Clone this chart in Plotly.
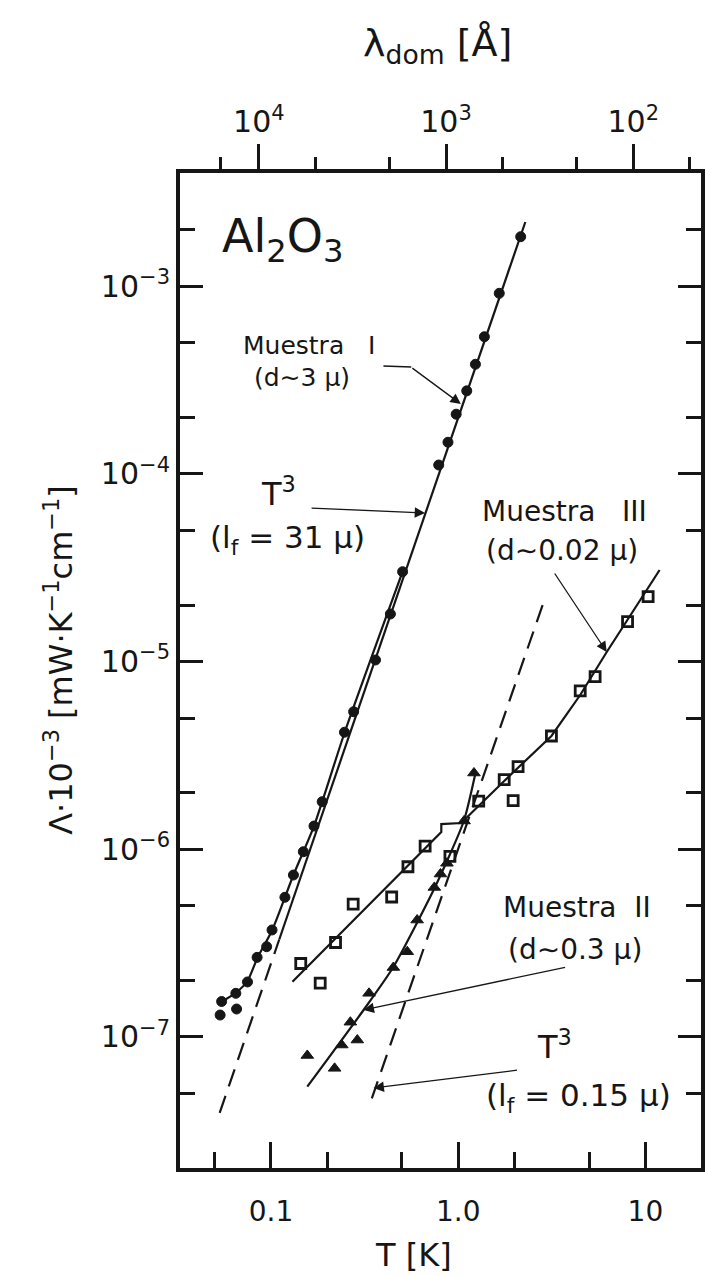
import numpy as np
import plotly.graph_objects as go

INK = "#161616"
FONT = "DejaVu Sans"

# ---- Muestra I (d ~ 3 µ): filled circles --------------------------------
T_I = [2.157, 1.657, 1.380, 1.236, 1.111, 0.9755, 0.882, 0.787, 0.5047, 0.4343,
       0.3617, 0.2764, 0.2469, 0.1877, 0.1697, 0.1489, 0.1318, 0.1187, 0.1013,
       0.0948, 0.0843, 0.0749, 0.0649, 0.0545, 0.0535, 0.0655]
L_I = [1.837e-3, 9.17e-4, 5.38e-4, 3.84e-4, 2.77e-4, 2.08e-4, 1.474e-4, 1.115e-4,
       3.01e-5, 1.792e-5, 1.019e-5, 5.40e-6, 4.20e-6, 1.790e-6, 1.328e-6, 9.69e-7,
       7.28e-7, 5.54e-7, 3.71e-7, 3.02e-7, 2.65e-7, 1.96e-7, 1.705e-7, 1.542e-7,
       1.306e-7, 1.406e-7]
# smooth curve through Muestra I at low temperature
T_I_fit = [0.0539, 0.0647, 0.0749, 0.0846, 0.1016, 0.1318, 0.1697, 0.2469, 0.5047]
L_I_fit = [1.532e-7, 1.711e-7, 1.983e-7, 2.63e-7, 3.71e-7, 7.28e-7, 1.328e-6,
           4.16e-6, 3.01e-5]
# T^3 law, l_f = 31 µ (dashed below the data, solid where it follows them)
T_T3a_dash = [0.0532, 0.1107]
L_T3a_dash = [3.93e-8, 3.30e-7]
T_T3a_solid = [0.1107, 2.284]
L_T3a_solid = [3.30e-7, 2.20e-3]

# ---- Muestra II (d ~ 0.3 µ): filled triangles ---------------------------
T_II = [0.1563, 0.2187, 0.2388, 0.2892, 0.2655, 0.3341, 0.4505, 0.5344, 0.6037,
        0.7459, 0.8043, 0.8708, 1.075, 1.214]
L_II = [7.95e-8, 6.79e-8, 9.04e-8, 9.61e-8, 1.196e-7, 1.705e-7, 2.34e-7, 2.84e-7,
        4.19e-7, 6.25e-7, 7.37e-7, 8.41e-7, 1.413e-6, 2.546e-6]
T_II_fit = [0.1563, 0.3124, 0.4505, 0.7522, 1.0717, 1.2405]
L_II_fit = [5.42e-8, 1.389e-7, 2.354e-7, 6.285e-7, 1.413e-6, 2.577e-6]
# T^3 law, l_f = 0.15 µ
T_T3b = [0.3457, 2.926]
L_T3b = [4.70e-8, 2.215e-5]

# ---- Muestra III (d ~ 0.02 µ): open squares -----------------------------
T_III = [0.1442, 0.1832, 0.2212, 0.2748, 0.4413, 0.539, 0.6659, 0.9034, 1.287,
         1.761, 1.966, 2.089, 3.148, 4.485, 5.387, 8.029, 10.34]
L_III = [2.458e-7, 1.934e-7, 3.18e-7, 5.09e-7, 5.56e-7, 8.06e-7, 1.039e-6, 9.16e-7,
         1.805e-6, 2.345e-6, 1.812e-6, 2.75e-6, 4.01e-6, 6.97e-6, 8.30e-6, 1.630e-5,
         2.215e-5]
T_III_fit = [0.1302, 0.8124, 0.8124, 1.037, 1.761, 3.148, 4.485, 6.215, 11.91]
L_III_fit = [1.966e-7, 1.234e-6, 1.361e-6, 1.378e-6, 2.31e-6, 4.01e-6, 6.63e-6,
             1.124e-5, 3.074e-5]

# ---- axis ticks -----------------------------------------------------------
T_TICKS = [0.1, 1.0, 10.0]
T_TICKTEXT = ["0.1", "1.0", "10"]
T_MINOR = [0.05, 0.2, 0.5, 2.0, 5.0]
L_TICKS = [1e-7, 1e-6, 1e-5, 1e-4, 1e-3]
L_TICKTEXT = ["10<sup>\u22127</sup>", "10<sup>\u22126</sup>", "10<sup>\u22125</sup>",
              "10<sup>\u22124</sup>", "10<sup>\u22123</sup>"]
L_MINOR = [5e-8, 2e-7, 5e-7, 2e-6, 5e-6, 2e-5, 5e-5, 2e-4, 5e-4, 2e-3]
LAM_TICKS = [1e4, 1e3, 1e2]
LAM_TICKTEXT = ["10<sup>4</sup>", "10<sup>3</sup>", "10<sup>2</sup>"]
LAM_MINOR = [1.6e4, 5e3, 2e3, 5e2, 2e2, 50]
LAM_T = 861.0  # lambda_dom * T  [Å·K]

T_RANGE = [-1.486, 1.297]
L_RANGE = [-7.6993, -2.3964]

fig = go.Figure()

line_kw = dict(color=INK, width=2.2)
dash_kw = dict(color=INK, width=2.2, dash="18px,10px")

fig.add_trace(go.Scatter(x=T_T3a_dash, y=L_T3a_dash, mode="lines", line=dash_kw))
fig.add_trace(go.Scatter(x=T_T3a_solid, y=L_T3a_solid, mode="lines", line=line_kw))
fig.add_trace(go.Scatter(x=T_I_fit, y=L_I_fit, mode="lines",
                         line=dict(color=INK, width=2.2, shape="spline", smoothing=0.6)))
fig.add_trace(go.Scatter(x=T_T3b, y=L_T3b, mode="lines", line=dash_kw))
fig.add_trace(go.Scatter(x=T_II_fit, y=L_II_fit, mode="lines",
                         line=dict(color=INK, width=2.2, shape="spline", smoothing=0.6)))
fig.add_trace(go.Scatter(x=T_III_fit, y=L_III_fit, mode="lines", line=line_kw))

fig.add_trace(go.Scatter(x=T_I, y=L_I, mode="markers",
                         marker=dict(symbol="circle", size=10, color=INK,
                                     line=dict(color=INK, width=1))))
fig.add_trace(go.Scatter(x=T_II, y=L_II, mode="markers",
                         marker=dict(symbol="triangle-up", size=11, color=INK,
                                     line=dict(color=INK, width=1))))
fig.add_trace(go.Scatter(x=T_III, y=L_III, mode="markers",
                         marker=dict(symbol="square-open", size=10, color=INK,
                                     line=dict(color=INK, width=2.8))))

# invisible trace carrying the lambda_dom axis
fig.add_trace(go.Scatter(x=[LAM_T / t for t in T_TICKS], y=[1e-5] * 3, xaxis="x2",
                         mode="markers", marker=dict(opacity=0), hoverinfo="skip"))

tick_font = dict(family=FONT, size=28, color=INK)

fig.update_layout(
    width=705, height=1277,
    margin=dict(l=180, r=0, t=173, b=109),
    paper_bgcolor="white", plot_bgcolor="white",
    showlegend=False,
    xaxis=dict(type="log", range=T_RANGE, tickvals=T_TICKS, ticktext=T_TICKTEXT,
               ticks="inside", ticklen=26, tickwidth=2.5, tickcolor=INK,
               minor=dict(tickvals=T_MINOR, ticks="inside", ticklen=16, tickwidth=2.5,
                          tickcolor=INK),
               showline=True, linewidth=4, linecolor=INK, mirror=True,
               showgrid=False, zeroline=False, tickfont=tick_font,
               ticklabelstandoff=15),
    xaxis2=dict(type="log", overlaying="x", side="top", anchor="y",
                range=[np.log10(LAM_T) - T_RANGE[0], np.log10(LAM_T) - T_RANGE[1]],
                tickvals=LAM_TICKS, ticktext=LAM_TICKTEXT,
                ticks="outside", ticklen=25, tickwidth=2.5, tickcolor=INK,
                minor=dict(tickvals=LAM_MINOR, ticks="outside", ticklen=12,
                           tickwidth=2.5, tickcolor=INK),
                showline=True, linewidth=3.5, linecolor=INK,
                showgrid=False, zeroline=False, tickfont=dict(family=FONT, size=30, color=INK)),
    yaxis=dict(type="log", range=L_RANGE, tickvals=L_TICKS, ticktext=L_TICKTEXT,
               ticks="inside", ticklen=23, tickwidth=2.5, tickcolor=INK,
               minor=dict(tickvals=L_MINOR, ticks="inside", ticklen=15, tickwidth=2.5,
                          tickcolor=INK),
               showline=True, linewidth=4, linecolor=INK, mirror="ticks",
               showgrid=False, zeroline=False, tickfont=dict(family=FONT, size=30, color=INK)),
)


def label(text, x, y, size, xanchor="center", angle=0):
    fig.add_annotation(text=text, x=x, y=y, xref="paper", yref="paper",
                       xanchor=xanchor, yanchor="middle", showarrow=False,
                       textangle=angle, font=dict(family=FONT, size=size, color=INK))


label("Al<sub>2</sub>O<sub>3</sub>", 0.0762, 0.9327, 46, xanchor="left")
label("Muestra\u00a0\u00a0\u00a0I", 0.2476, 0.8271, 25)
label("(d\u223c3 \u00b5)", 0.2343, 0.7940, 25)
label("T<sup>3</sup>", 0.1886, 0.6794, 32)
label("(l<sub>f</sub> = 31 \u00b5)", 0.2057, 0.6312, 31)
label("Muestra\u00a0\u00a0\u00a0III", 0.7371, 0.6593, 28)
label("(d\u223c0.02 \u00b5)", 0.7333, 0.6211, 28)
label("Muestra\u00a0\u00a0II", 0.7619, 0.2623, 28)
label("(d\u223c0.3 \u00b5)", 0.7581, 0.2191, 28)
label("T<sup>3</sup>", 0.7181, 0.1236, 32)
label("(l<sub>f</sub> = 0.15 \u00b5)", 0.7657, 0.0704, 31)

# axis titles
label("\u03bb<sub>dom</sub> [\u00c5]", 0.4952, 1.1286, 38)
label("T [K]", 0.4476, -0.0874, 32)
label("\u039b\u00b710<sup>\u22123</sup> [mW\u00b7K<sup>\u22121</sup>cm<sup>\u22121</sup>]",
      -0.2324, 0.5106, 32, angle=-90)


def arrow(t_tip, l_tip, ax, ay):
    fig.add_annotation(x=np.log10(t_tip), y=np.log10(l_tip), xref="x", yref="y",
                       ax=ax, ay=ay, text="", showarrow=True, arrowhead=2,
                       arrowsize=1.6, arrowwidth=1.3, arrowcolor=INK)


arrow(10 ** 0.0142, 10 ** -3.6275, -50, -37)     # Muestra I
arrow(10 ** -0.1767, 10 ** -4.2084, -115, -5)    # T^3, l_f = 31 µ
arrow(10 ** 0.7934, 10 ** -4.9493, -53, -80)     # Muestra III
arrow(10 ** -0.5053, 10 ** -6.8573, 203, -43)    # Muestra II
arrow(10 ** -0.4523, 10 ** -7.2730, 145, -18)    # T^3, l_f = 0.15 µ

# leading horizontal stroke of the Muestra I pointer
fig.add_shape(type="line", xref="paper", yref="paper",
              x0=(385 - 180) / 525, x1=(413 - 180) / 525,
              y0=(1168 - 366) / 995, y1=(1168 - 367) / 995,
              line=dict(color=INK, width=1.3))

fig.write_html("out.html")
